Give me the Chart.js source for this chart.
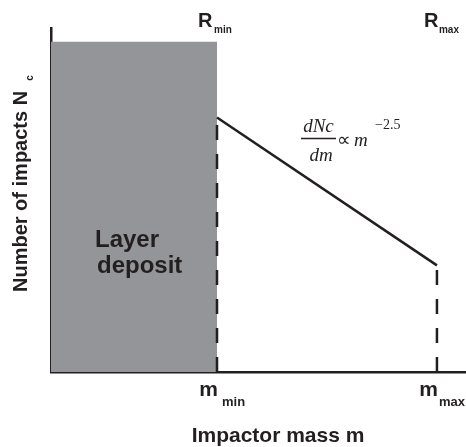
<!DOCTYPE html>
<html>
<head>
<meta charset="utf-8">
<script src="https://cdn.jsdelivr.net/npm/chart.js@4"></script>
<style>
html,body{margin:0;padding:0;background:#fff;}
#wrap{width:466px;height:447px;position:relative;}
</style>
</head>
<body>
<div id="wrap"><canvas id="c"></canvas></div>
<script>
// ---- data (arbitrary schematic units) ----
const xRange = [0, 100];          // mass axis extent
const yRange = [0, 100];          // impacts axis extent
const massMarks = [40, 93];       // m_min, m_max
const depositTop = 96;            // height of the layer-deposit block
const powerLaw = [74, 31];        // N_c at m_min and m_max
const massLabels = ['min', 'max'];
const xTitle = 'Impactor mass m';
const yTitle = 'Number of impacts N';
const ySub = 'c';
const exponentText = '\u22122.5';

const INK = '#231f20';
const GREY = '#939598';

const datasets = [
  {
    label: 'power law',
    data: [{x: massMarks[0], y: powerLaw[0]}, {x: massMarks[1], y: powerLaw[1]}],
    borderColor: INK, borderWidth: 2.5, pointRadius: 0, fill: false
  },
  {
    label: 'mmin',
    data: [{x: massMarks[0], y: yRange[0]}, {x: massMarks[0], y: powerLaw[0]}],
    borderColor: INK, borderWidth: 2.5, borderDash: [15, 14], pointRadius: 0, fill: false
  },
  {
    label: 'mmax',
    data: [{x: massMarks[1], y: yRange[0]}, {x: massMarks[1], y: powerLaw[1]}],
    borderColor: INK, borderWidth: 2.5, borderDash: [15, 14], pointRadius: 0, fill: false
  },
  {
    label: 'deposit',
    data: [{x: xRange[0], y: depositTop}, {x: massMarks[0], y: depositTop}],
    borderWidth: 0, borderColor: 'rgba(0,0,0,0)', backgroundColor: GREY,
    pointRadius: 0, fill: 'origin'
  }
];

const textPlugin = {
  id: 'texts',
  afterDraw(chart) {
    const ctx = chart.ctx;
    const xs = chart.scales.x;
    const x1 = xs.getPixelForValue(massMarks[0]);
    const x2 = xs.getPixelForValue(massMarks[1]);
    const sans = '"Liberation Sans", Arial, sans-serif';
    const serif = '"Liberation Serif", "Times New Roman", serif';
    ctx.save();
    ctx.fillStyle = INK;
    ctx.textBaseline = 'alphabetic';
    ctx.textAlign = 'left';

    // Layer deposit
    ctx.font = 'bold 24px ' + sans;
    ctx.fillText('Layer', 95, 247);
    ctx.fillText('deposit', 97, 273);

    // m labels
    [[x1, 5], [x2, 2]].forEach((a, i) => {
      ctx.font = 'bold 21px ' + sans;
      ctx.textAlign = 'right';
      ctx.fillText('m', a[0] + 1, 396);
      ctx.textAlign = 'left';
      ctx.font = 'bold 13px ' + sans;
      ctx.fillText(massLabels[i], a[0] + a[1], 406);
    });

    // R labels
    [[x1, -19, -3], [x2, -13, 2]].forEach((a, i) => {
      ctx.font = 'bold 20px ' + sans;
      ctx.textAlign = 'left';
      ctx.fillText('R', a[0] + a[1], 27);
      ctx.font = 'bold 10px ' + sans;
      ctx.fillText(massLabels[i], a[0] + a[2], 33);
    });

    // x title
    ctx.font = 'bold 21px ' + sans;
    ctx.textAlign = 'center';
    ctx.fillText(xTitle, 278, 442);

    // y title
    ctx.save();
    ctx.translate(27, 292);
    ctx.rotate(-Math.PI / 2);
    ctx.textAlign = 'left';
    ctx.font = 'bold 20px ' + sans;
    ctx.fillText(yTitle, 0, 0);
    const w = ctx.measureText(yTitle).width;
    ctx.font = 'bold 10px ' + sans;
    ctx.fillText(ySub, w + 10, 6);
    ctx.restore();

    // formula
    ctx.textAlign = 'center';
    ctx.font = 'italic 19px ' + serif;
    ctx.fillText('dNc', 318.5, 132);
    ctx.fillText('dm', 321, 161);
    ctx.strokeStyle = INK;
    ctx.lineWidth = 1.5;
    ctx.beginPath();
    ctx.moveTo(301, 138.5);
    ctx.lineTo(336, 138.5);
    ctx.stroke();
    ctx.textAlign = 'left';
    ctx.font = '19px ' + serif;
    ctx.fillText('\u221D', 337, 146);
    ctx.font = 'italic 19px ' + serif;
    ctx.fillText('m', 354, 146);
    ctx.font = '14px ' + serif;
    ctx.fillText(exponentText, 375, 129);
    ctx.restore();
  }
};

new Chart(document.getElementById('c'), {
  type: 'line',
  data: { datasets },
  options: {
    responsive: true,
    maintainAspectRatio: false,
    animation: false,
    layout: { padding: { top: 28, left: 0, right: 0, bottom: 0 } },
    plugins: { legend: { display: false }, tooltip: { enabled: false } },
    scales: {
      x: {
        type: 'linear', min: xRange[0], max: xRange[1],
        ticks: { display: false },
        grid: { display: false },
        border: { display: true, color: INK, width: 2.5 },
        afterFit(s) { s.height = 75; }
      },
      y: {
        type: 'linear', min: yRange[0], max: yRange[1],
        ticks: { display: false },
        grid: { display: false },
        border: { display: true, color: INK, width: 2.5 },
        afterFit(s) { s.width = 51; }
      }
    }
  },
  plugins: [textPlugin]
});
</script>
</body>
</html>
